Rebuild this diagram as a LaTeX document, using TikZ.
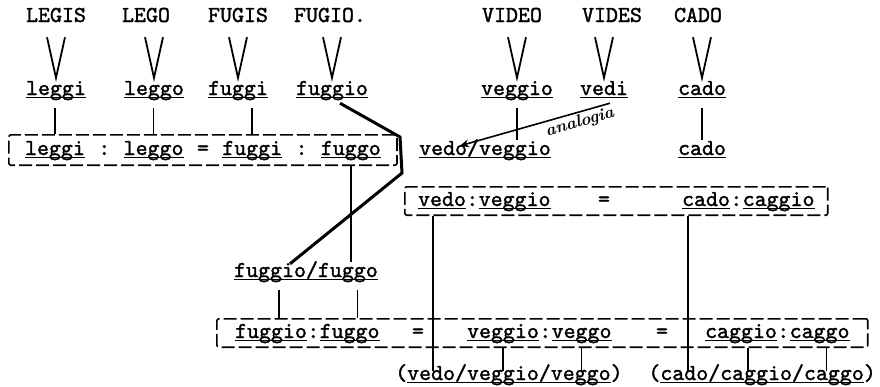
\documentclass[tikz,border=0pt]{standalone}
\usepackage{fontspec}
\usetikzlibrary{arrows.meta,positioning,fit,calc}

\newfontfamily\typew{lmmono10-regular.otf}[FakeBold=1.5]
\newcommand\und[1]{\setbox0=\hbox{#1}\rlap{\rule[-3pt]{\wd0}{1.4pt}}\copy0}

\begin{document}
\begin{tikzpicture}[
    x=1pt, y=-1pt,
    word/.style={inner sep=0pt, text height=15pt, text depth=5pt, font=\typew\fontsize{22.8pt}{26pt}\selectfont},
    note/.style={font=\fontsize{17pt}{18pt}\selectfont\itshape\bfseries, inner sep=1pt},
    dbox/.style={draw, line width=1.6pt, dash pattern=on 13pt off 4pt, rounded corners=2pt},
    vee/.style={line width=1.8pt},
    link/.style={line width=1.5pt},
    heavy/.style={line width=3pt},
    arrow/.style={-{Stealth[length=9pt, width=8pt]}, line width=1.6pt}
  ]
    \useasboundingbox (0,0) rectangle (880,386);

    % latin forms
    \node[word] (LEGIS) at (56,17) {LEGIS};
    \node[word] (LEGO) at (146,17) {LEGO};
    \node[word] (FUGIS) at (238,17) {FUGIS};
    \node[word] (FUGIO) at (330,17) {FUGIO.};
    \node[word] (VIDEO) at (512,17) {VIDEO};
    \node[word] (VIDES) at (612,17) {VIDES};
    \node[word] (CADO) at (698,17) {CADO};

    % italian forms
    \node[word] (leggi) at (56,90) {\und{leggi}};
    \node[word] (leggo) at (154,90) {\und{leggo}};
    \node[word] (fuggi) at (238,90) {\und{fuggi}};
    \node[word] (fuggio) at (332,90) {\und{fuggio}};
    \node[word] (veggio) at (517,90) {\und{veggio}};
    \node[word] (vedi) at (604,90) {\und{vedi}};
    \node[word] (cado) at (702,90) {\und{cado}};

    \foreach \a/\b in {LEGIS/leggi, LEGO/leggo, FUGIS/fuggi, FUGIO/fuggio, VIDEO/veggio, VIDES/vedi, CADO/cado}
      \draw[vee] ($(\a.south -| \b)+(-9,10)$) -- ($(\b.north)+(0,-2)$) -- ($(\a.south -| \b)+(9,10)$);

    % leggi : leggo = fuggi : fuggo
    \node[word] (b1leggi) at (55,150) {\und{leggi}};
    \node[word, right=13pt of b1leggi] (b1c1) {:};
    \node[word, right=13pt of b1c1] (b1leggo) {\und{leggo}};
    \node[word, right=13pt of b1leggo] (b1eq) {=};
    \node[word, right=13pt of b1eq] (b1fuggi) {\und{fuggi}};
    \node[word, right=13pt of b1fuggi] (b1c2) {:};
    \node[word, right=13pt of b1c2] (b1fuggo) {\und{fuggo}};
    \node[dbox, fit=(b1leggi)(b1fuggo), inner xsep=16pt, inner ysep=5pt] (box1) {};

    \node[word] (vv) at (485,150) {\und{vedo/veggio}};
    \node[word] (cado2) at (702,150) {\und{cado}};

    % vedo:veggio = cado:caggio
    \node[word] (b2vedo) at (442,201) {\und{vedo}};
    \node[word, right=0pt of b2vedo] (b2c1) {:};
    \node[word, right=0pt of b2c1] (b2veggio) {\und{veggio}};
    \node[word] (b2eq) at (604,201) {=};
    \node[word] (b2cado) at (706,201) {\und{cado}};
    \node[word, right=0pt of b2cado] (b2c2) {:};
    \node[word, right=0pt of b2c2] (b2caggio) {\und{caggio}};
    \node[dbox, fit=(b2vedo)(b2caggio), inner xsep=13pt, inner ysep=4pt] (box2) {};

    \node[word] (ff) at (306,272) {\und{fuggio/fuggo}};

    % fuggio:fuggo = veggio:veggo = caggio:caggo
    \node[word] (b3fuggio) at (271,333) {\und{fuggio}};
    \node[word, right=0pt of b3fuggio] (b3c1) {:};
    \node[word, right=0pt of b3c1] (b3fuggo) {\und{fuggo}};
    \node[word] (b3eq1) at (418,333) {=};
    \node[word] (b3veggio) at (503,333) {\und{veggio}};
    \node[word, right=0pt of b3veggio] (b3c2) {:};
    \node[word, right=0pt of b3c2] (b3veggo) {\und{veggo}};
    \node[word] (b3eq2) at (662,333) {=};
    \node[word] (b3caggio) at (741,333) {\und{caggio}};
    \node[word, right=0pt of b3caggio] (b3c3) {:};
    \node[word, right=0pt of b3c3] (b3caggo) {\und{caggo}};
    \node[dbox, fit=(b3fuggio)(b3caggo), inner xsep=18pt, inner ysep=4pt] (box3) {};

    \node[word, anchor=west] (bot1) at (395,375) {(\und{vedo/veggio/veggo})};
    \node[word, anchor=east] (bot2) at (876,375) {(\und{cado/caggio/caggo})};

    % connectors
    \foreach \w in {leggi,leggo,fuggi}
      \draw[link, shorten <=8pt] (b1\w |- \w.south) -- (b1\w |- box1.north);
    \draw[heavy] ($(fuggio.south)+(8,3)$) -- (400,137) -- (402,173) -- ($(ff.north)+(-16,2)$);
    \draw[link] (b1fuggo |- box1.south) -- (b1fuggo |- ff.north);
    \draw[link, shorten <=8pt] (veggio.south) -- (veggio.south |- vv.north);
    \draw[link, shorten <=8pt] (cado.south) -- (cado2.north);
    \draw[arrow] ($(vedi.south)+(6,3)$) -- node[pos=0.22, sloped, below=1pt, note] {analogia} ($(vv.north west)+(41,6)$);

    \foreach \w in {fuggio,fuggo}
      \draw[link, shorten <=8pt] ($(b3\w |- ff.south)+(8,0)$) -- ($(b3\w |- box3.north)+(8,0)$);

    \coordinate (vedoB) at ($(bot1.north west)+(38,6)$);
    \coordinate (cadoB) at ($(bot2.north west)+(40,6)$);
    \draw[link] (vedoB |- box2.south) -- (vedoB);
    \draw[link] (cadoB |- box2.south) -- (cadoB);
    \foreach \w/\b/\s in {veggio/bot1/0, veggo/bot1/0, caggio/bot2/7, caggo/bot2/7}
      \draw[link] ($(b3\w |- box3.south)+(\s,0)$) -- ($(b3\w |- \b.north)+(\s,6)$);
  \end{tikzpicture}
\end{document}
